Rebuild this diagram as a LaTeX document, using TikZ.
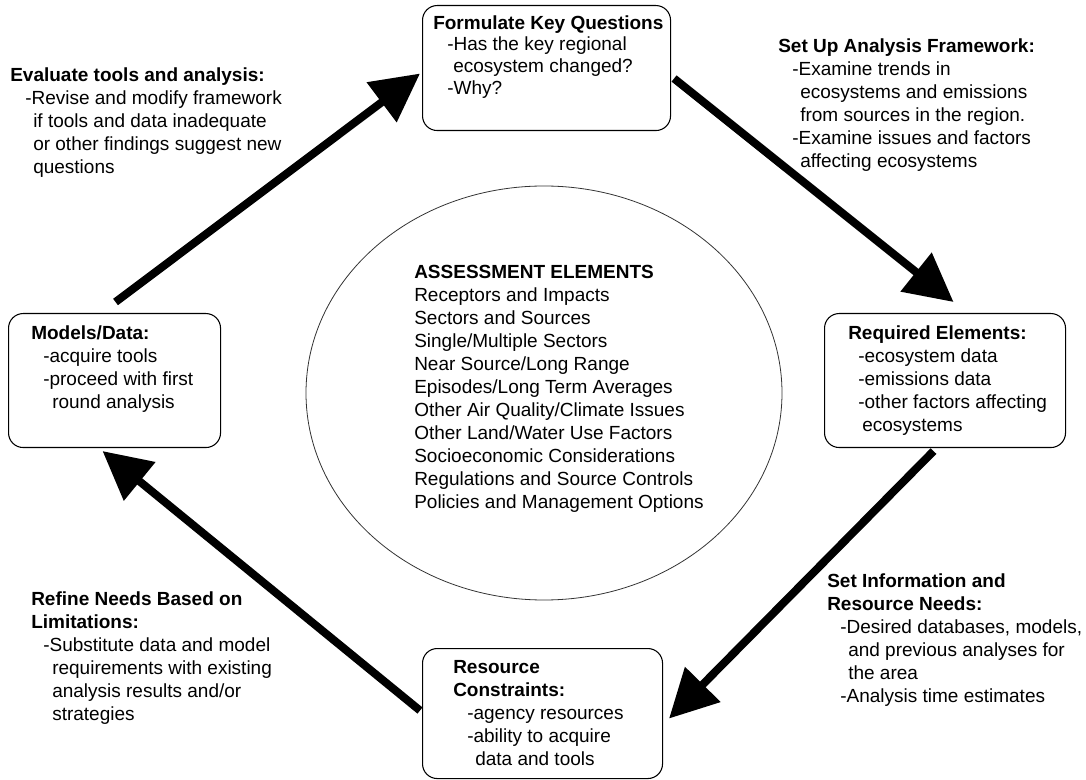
\documentclass[tikz,border=0pt]{standalone}
\usepackage{fontspec}
\setmainfont{Liberation Sans}
\usetikzlibrary{arrows.meta}
\usetikzlibrary{shapes.geometric}

\begin{document}
\begin{tikzpicture}[x=0.75pt,y=-0.75pt,
	every node/.style={font=\fontsize{14.25}{17.25}\selectfont},
	stagebox/.style={draw,rounded corners=11pt,line width=0.8pt,inner sep=0,anchor=north west},
	blurb/.style={align=left,inner sep=0,anchor=north west},
	cyclearrow/.style={line width=6pt,-{Triangle[length=36pt,width=36pt]}}]
	\useasboundingbox (0,0) rectangle (1086,780);

	% central ellipse
	\node[draw,ellipse,line width=0.6pt,draw=black!80,minimum width=357pt,minimum height=310.5pt] (hub) at (544,393) {};
	\node[blurb] (hubtext) at (414,265) {\textbf{ASSESSMENT ELEMENTS}\\
		Receptors and Impacts\\
		Sectors and Sources\\
		Single/Multiple Sectors\\
		Near Source/Long Range\\
		Episodes/Long Term Averages\\
		Other Air Quality/Climate Issues\\
		Other Land/Water Use Factors\\
		Socioeconomic Considerations\\
		Regulations and Source Controls\\
		Policies and Management Options};

	% the four stages
	\node[stagebox,minimum width=186pt,minimum height=93.75pt] (fq) at (422,5) {};
	\node[blurb,font=\fontsize{14.25}{16.25}\selectfont] (fqtext) at ([shift={(11,10)}]fq.north west) {\textbf{Formulate Key Questions}\\
		\hspace*{10.5pt}-Has the key regional\\
		\hspace*{15pt}ecosystem changed?\\
		\hspace*{10.5pt}-Why?};

	\node[stagebox,minimum width=180.75pt,minimum height=100.5pt] (re) at (824,313) {};
	\node[blurb] (retext) at ([shift={(24,12)}]re.north west) {\textbf{Required Elements:}\\
		\hspace*{7.5pt}-ecosystem data\\
		\hspace*{7.5pt}-emissions data\\
		\hspace*{7.5pt}-other factors affecting\\
		\hspace*{10.5pt}ecosystems};

	\node[stagebox,minimum width=180pt,minimum height=97.5pt] (rc) at (422,648) {};
	\node[blurb] (rctext) at ([shift={(31,12)}]rc.north west) {\textbf{Resource}\\
		\textbf{Constraints:}\\
		\hspace*{10.5pt}-agency resources\\
		\hspace*{10.5pt}-ability to acquire\\
		\hspace*{16.5pt}data and tools};

	\node[stagebox,minimum width=159pt,minimum height=100.5pt] (md) at (8,313) {};
	\node[blurb] (mdtext) at ([shift={(23,12)}]md.north west) {\textbf{Models/Data:}\\
		\hspace*{9pt}-acquire tools\\
		\hspace*{9pt}-proceed with first\\
		\hspace*{15.75pt}round analysis};

	% steps between stages
	\node[blurb] (evaltext) at (10,67) {\textbf{Evaluate tools and analysis:}\\
		\hspace*{11.25pt}-Revise and modify framework\\
		\hspace*{17.25pt}if tools and data inadequate\\
		\hspace*{17.25pt}or other findings suggest new\\
		\hspace*{17.25pt}questions};
	\node[blurb] (setuptext) at (778,38) {\textbf{Set Up Analysis Framework:}\\
		\hspace*{10.5pt}-Examine trends in\\
		\hspace*{16.5pt}ecosystems and emissions\\
		\hspace*{16.5pt}from sources in the region.\\
		\hspace*{10.5pt}-Examine issues and factors\\
		\hspace*{16.5pt}affecting ecosystems};
	\node[blurb] (infotext) at (827,573) {\textbf{Set Information and}\\
		\textbf{Resource Needs:}\\
		\hspace*{9.75pt}-Desired databases, models,\\
		\hspace*{15.75pt}and previous analyses for\\
		\hspace*{15.75pt}the area\\
		\hspace*{9.75pt}-Analysis time estimates};
	\node[blurb] (refinetext) at (31,591) {\textbf{Refine Needs Based on}\\
		\textbf{Limitations:}\\
		\hspace*{9pt}-Substitute data and model\\
		\hspace*{15.75pt}requirements with existing\\
		\hspace*{15.75pt}analysis results and/or\\
		\hspace*{15.75pt}strategies};

	\draw[cyclearrow] ([shift={(1,-11)}]md.north) -- ([shift={(-2,5.5)}]fq.west);
	\draw[cyclearrow] ([shift={(3,10.5)}]fq.east) -- ([shift={(8.5,-11)}]re.north);
	\draw[cyclearrow] ([shift={(-11.5,3)}]re.south) -- ([shift={(6,5)}]rc.east);
	\draw[cyclearrow] ([shift={(-2,-3)}]rc.west) -- ([shift={(-12,3)}]md.south);

\end{tikzpicture}
\end{document}
